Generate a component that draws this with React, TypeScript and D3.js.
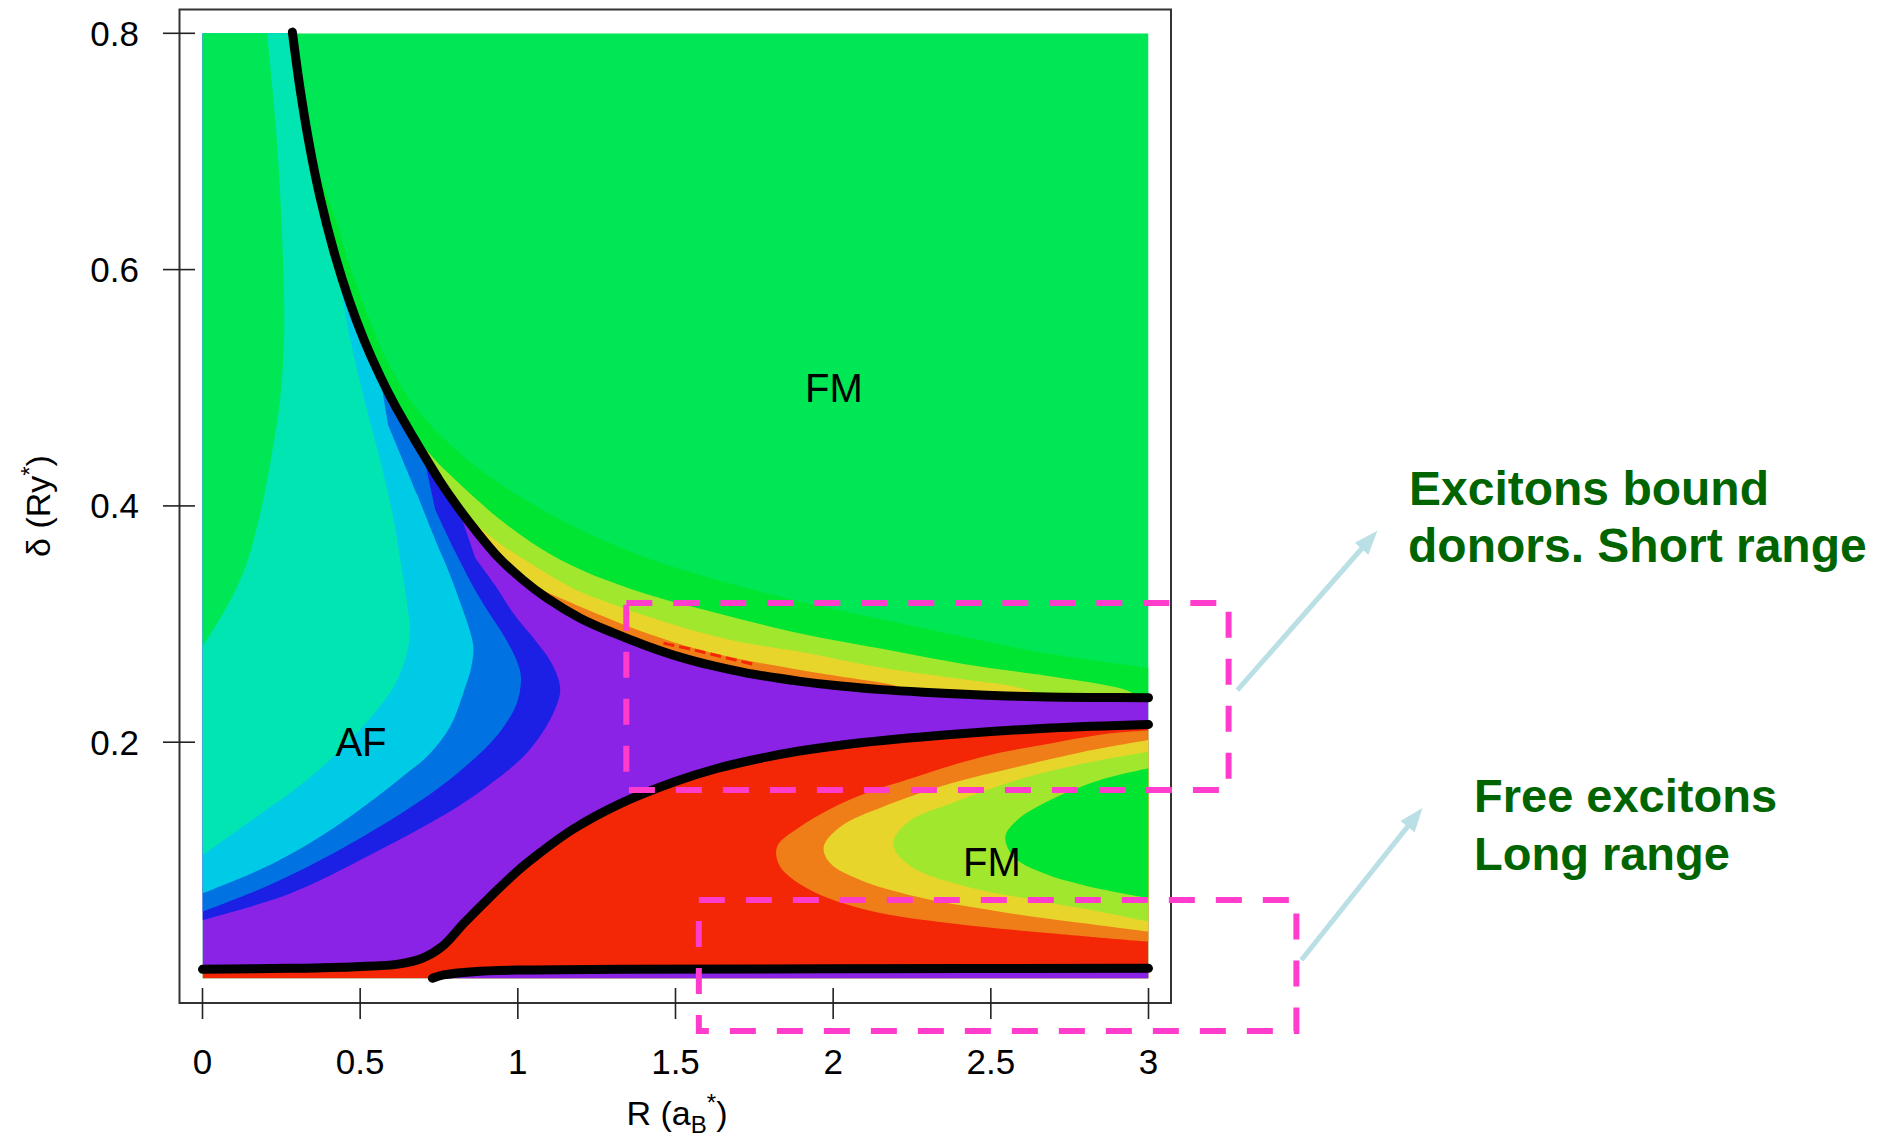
import React from "react";
import * as d3 from "d3";

type P = [number, number];

// ---------- axes ----------
const xTickValues = [0, 0.5, 1, 1.5, 2, 2.5, 3];
const xTickLabels = ["0", "0.5", "1", "1.5", "2", "2.5", "3"];
const yTickValues = [0.2, 0.4, 0.6, 0.8];
const yTickLabels = ["0.2", "0.4", "0.6", "0.8"];

// ---------- thick black phase lines (R, delta) ----------
const upperPhaseLine: P[] = [
  [0.285, 0.801], [0.31, 0.752], [0.34, 0.704], [0.373, 0.661], [0.416, 0.616],
  [0.465, 0.574], [0.513, 0.54], [0.563, 0.51], [0.61, 0.4852], [0.648, 0.4675],
  [0.7, 0.444], [0.753, 0.421], [0.81, 0.399], [0.87, 0.378], [0.94, 0.356],
  [1.018, 0.337], [1.092, 0.322], [1.198, 0.305], [1.303, 0.2925], [1.409, 0.2815],
  [1.515, 0.272], [1.621, 0.2645], [1.727, 0.2585], [1.896, 0.2515], [2.023, 0.2475],
  [2.155, 0.2445], [2.286, 0.2423], [2.418, 0.2405], [2.549, 0.2392], [2.681, 0.2383],
  [2.812, 0.2379], [3.0, 0.2376],
];
const middlePhaseLine: P[] = [
  [0, 0.0078], [0.276, 0.0086], [0.487, 0.01], [0.62, 0.0122], [0.7, 0.0175],
  [0.76, 0.027], [0.83, 0.047], [0.912, 0.069], [0.997, 0.0905], [1.071, 0.1065],
  [1.176, 0.1265], [1.325, 0.148], [1.497, 0.1665], [1.628, 0.1775], [1.737, 0.1845],
  [1.892, 0.1925], [2.054, 0.1985], [2.372, 0.2065], [2.689, 0.212], [3.0, 0.215],
];
const lowerPhaseLine: P[] = [
  [0.729, 0.0002], [0.764, 0.003], [0.859, 0.0058], [1.018, 0.0072], [1.325, 0.0078],
  [2.0, 0.0083], [3.0, 0.0086],
];

// ---------- AF side level edges (tip near upper line -> R = 0 edge) ----------
const darkBlueEdge: P[] = [
  [0.865, 0.356], [0.93, 0.332], [0.986, 0.309], [1.05, 0.288], [1.1, 0.27],
  [1.128, 0.254], [1.134, 0.242], [1.115, 0.226], [1.075, 0.207], [1.018, 0.188],
  [0.92, 0.166], [0.807, 0.145], [0.542, 0.106], [0.278, 0.072], [0, 0.0495],
];
const blueEdge: P[] = [
  [0.738, 0.397], [0.8, 0.362], [0.86, 0.331], [0.912, 0.308], [0.958, 0.289],
  [0.995, 0.27], [1.01, 0.255], [0.997, 0.233], [0.96, 0.215], [0.912, 0.199],
  [0.753, 0.162], [0.489, 0.117], [0.225, 0.0806], [0, 0.0565],
];
const cyanEdge: P[] = [
  [0.588, 0.469], [0.68, 0.41], [0.74, 0.37], [0.78, 0.345], [0.815, 0.32],
  [0.847, 0.295], [0.859, 0.28], [0.852, 0.263], [0.835, 0.248], [0.785, 0.213],
  [0.72, 0.19], [0.648, 0.1737], [0.436, 0.131], [0.225, 0.0975], [0, 0.0721],
];
const tealEdge: P[] = [
  [0.43, 0.6], [0.465, 0.546], [0.513, 0.49], [0.568, 0.434], [0.605, 0.39],
  [0.63, 0.35], [0.65, 0.315], [0.658, 0.295], [0.648, 0.275], [0.625, 0.257],
  [0.595, 0.242], [0.489, 0.2075], [0.331, 0.168], [0.172, 0.137], [0, 0.1045],
];
const leftGreenEdge: P[] = [
  [0.204, 0.802], [0.234, 0.716], [0.252, 0.631], [0.259, 0.546], [0.246, 0.49],
  [0.222, 0.447], [0.186, 0.397], [0.137, 0.349], [0.076, 0.314], [0, 0.281],
];

// ---------- upper FM bands (start at upper line, run to the right) ----------
const bandGreenEdge: P[] = [
  [0.335, 0.712], [0.385, 0.67], [0.426, 0.64], [0.468, 0.6025], [0.595, 0.518],
  [0.7, 0.4755], [0.859, 0.435], [1.018, 0.406], [1.229, 0.376], [1.441, 0.353],
  [1.652, 0.336], [1.864, 0.321], [2.155, 0.304], [2.418, 0.289], [2.681, 0.275],
  [3.0, 0.263],
];
const yellowGreenEdge: P[] = [
  [0.605, 0.49], [0.705, 0.449], [0.806, 0.421], [0.965, 0.384], [1.124, 0.356],
  [1.282, 0.337], [1.45, 0.322], [1.621, 0.31], [1.896, 0.292], [2.155, 0.279],
  [2.418, 0.266], [2.681, 0.256], [2.85, 0.249], [2.93, 0.244], [2.96, 0.24],
];
const yellowEdge: P[] = [
  [0.817, 0.3965], [0.933, 0.37], [1.018, 0.355], [1.176, 0.33], [1.303, 0.3165],
  [1.515, 0.2978], [1.727, 0.2837], [1.896, 0.2766], [2.155, 0.263], [2.418, 0.253],
  [2.575, 0.247], [2.64, 0.242],
];
const orangeEdge: P[] = [
  [1.04, 0.333], [1.198, 0.3147], [1.409, 0.2922], [1.621, 0.2752], [1.896, 0.2611],
  [2.05, 0.2545], [2.18, 0.249], [2.22, 0.246],
];
const redStreak: P[] = [[1.462, 0.2837], [1.56, 0.278], [1.66, 0.2715], [1.758, 0.2653]];

// ---------- lower FM C-shaped levels (R = 3 top -> around -> R = 3 bottom) ----------
const lowOrangeEdge: P[] = [
  [3.0, 0.21], [2.879, 0.2075], [2.689, 0.199], [2.477, 0.188], [2.266, 0.171],
  [2.054, 0.1515], [1.895, 0.1285], [1.822, 0.1115], [1.832, 0.0946], [1.927, 0.0749],
  [2.107, 0.058], [2.372, 0.0467], [2.689, 0.0383], [3.0, 0.0311],
];
const lowYellowEdge: P[] = [
  [3.0, 0.2019], [2.794, 0.192], [2.583, 0.179], [2.372, 0.165], [2.16, 0.1455],
  [2.023, 0.1285], [1.97, 0.1115], [1.991, 0.0975], [2.086, 0.0834], [2.266, 0.0692],
  [2.53, 0.0565], [2.794, 0.0467], [3.0, 0.0396],
];
const lowYellowGreenEdge: P[] = [
  [3.0, 0.192], [2.794, 0.182], [2.583, 0.168], [2.372, 0.148], [2.245, 0.134],
  [2.192, 0.117], [2.202, 0.106], [2.266, 0.0918], [2.424, 0.0777], [2.636, 0.0664],
  [2.847, 0.0565], [3.0, 0.0481],
];
const lowGreenEdge: P[] = [
  [3.0, 0.178], [2.847, 0.168], [2.689, 0.151], [2.583, 0.134], [2.546, 0.12],
  [2.572, 0.103], [2.668, 0.089], [2.794, 0.079], [3.0, 0.068],
];

// ---------- annotations (data units) ----------
const shortRangeBox: P[] = [[1.344, 0.1595], [3.254, 0.3178]];
const longRangeBox: P[] = [[1.574, -0.0444], [3.469, 0.0664]];
const shortRangeArrow: P[] = [[3.282, 0.244], [3.726, 0.379]];
const longRangeArrow: P[] = [[3.485, 0.0157], [3.869, 0.1444]];
const shortRangeText = ["Excitons bound", "donors. Short range"];
const longRangeText = ["Free excitons", "Long range"];

// ---------- colours ----------
const C = {
  mainGreen: "#00E756",
  bandGreen: "#00E532",
  yellowGreen: "#A0E72D",
  yellow: "#E8D52B",
  orange: "#EF7D18",
  red: "#F32606",
  purple: "#8A23E6",
  darkBlue: "#1C1FE4",
  blue: "#0072E1",
  cyan: "#00CBE6",
  teal: "#00E5B2",
  magenta: "#FF3CCC",
  arrow: "#BADFE4",
  note: "#006400",
};

const FONT = "'Liberation Sans', Arial, Helvetica, sans-serif";

export default function App() {
  const x = d3.scaleLinear().domain([0, 3]).range([202.5, 1148.5]);
  const y = d3.scaleLinear().domain([0, 0.8]).range([978.5, 33.3]);

  const curve = d3
    .line<P>()
    .x((d) => x(d[0]))
    .y((d) => y(d[1]))
    .curve(d3.curveCatmullRom.alpha(0.5));
  const straight = d3
    .line<P>()
    .x((d) => x(d[0]))
    .y((d) => y(d[1]));

  const join = (parts: (string | null)[]) =>
    parts.map((p, i) => (i === 0 ? (p as string) : (p as string).replace(/^M/, "L"))).join("") + "Z";

  const ubRange = (r0: number, r1: number) =>
    upperPhaseLine.filter((p) => p[0] >= r0 && p[0] <= r1);

  const upperBand = (edge: P[]) =>
    join([curve(edge), curve(ubRange(edge[0][0], edge[edge.length - 1][0]).slice().reverse())]);

  const afLevel = (edge: P[]) =>
    join([
      curve(edge),
      straight([[0, edge[edge.length - 1][1]], [0, 0.8]]),
      curve(upperPhaseLine.filter((p) => p[0] < edge[0][0])),
    ]);

  const last = (a: P[]) => a[a.length - 1];

  const purpleBase = join([
    curve(upperPhaseLine),
    straight([last(upperPhaseLine), last(middlePhaseLine)]),
    curve(middlePhaseLine.slice().reverse()),
    straight([middlePhaseLine[0], [0, 0.8]]),
  ]);
  const redBase = join([curve(middlePhaseLine), straight([last(middlePhaseLine), [3, 0], [0, 0]])]);
  const bottomPurple = join([
    curve(lowerPhaseLine),
    straight([last(lowerPhaseLine), [3, 0], [lowerPhaseLine[0][0], 0]]),
  ]);
  const leftGreen = join([curve(leftGreenEdge), straight([last(leftGreenEdge), [0, 0.8]])]);

  const arrow = (a: P[]) => {
    const x0 = x(a[0][0]), y0 = y(a[0][1]), x1 = x(a[1][0]), y1 = y(a[1][1]);
    const dx = x1 - x0, dy = y1 - y0, len = Math.hypot(dx, dy);
    const ux = dx / len, uy = dy / len;
    const hl = 24, hw = 9;
    const bx = x1 - ux * hl, by = y1 - uy * hl;
    return (
      <g>
        <line x1={x0} y1={y0} x2={bx + ux * 2} y2={by + uy * 2} stroke={C.arrow} strokeWidth={5} />
        <polygon
          points={`${x1},${y1} ${bx - uy * hw},${by + ux * hw} ${bx + uy * hw},${by - ux * hw}`}
          fill={C.arrow}
        />
      </g>
    );
  };

  const box = (b: P[]) => {
    const xa = x(b[0][0]), xb = x(b[1][0]), ya = y(b[1][1]), yb = y(b[0][1]);
    return (
      <rect
        x={xa}
        y={ya}
        width={xb - xa}
        height={yb - ya}
        fill="none"
        stroke={C.magenta}
        strokeWidth={6}
        strokeDasharray="26 21"
      />
    );
  };

  const frame = { x1: 179.5, y1: 9.5, x2: 1171, y2: 1003 };

  return (
    <svg
      width={1887}
      height={1137}
      style={{ position: "absolute", left: 0, top: 0, display: "block", background: "#fff" }}
      fontFamily={FONT}
    >
      <defs>
        <clipPath id="plotClip">
          <rect x={x(0)} y={y(0.8)} width={x(3) - x(0)} height={y(0) - y(0.8)} />
        </clipPath>
      </defs>

      <g clipPath="url(#plotClip)">
        <rect x={x(0)} y={y(0.8)} width={x(3) - x(0)} height={y(0) - y(0.8)} fill={C.mainGreen} />
        {/* upper FM bands */}
        <path d={upperBand(bandGreenEdge)} fill={C.bandGreen} />
        <path d={upperBand(yellowGreenEdge)} fill={C.yellowGreen} />
        <path d={upperBand(yellowEdge)} fill={C.yellow} />
        <path d={upperBand(orangeEdge)} fill={C.orange} />
        <path d={curve(redStreak) as string} fill="none" stroke={C.red} strokeWidth={3} strokeDasharray="11 5" />
        {/* AF side */}
        <path d={purpleBase} fill={C.purple} />
        <path d={afLevel(darkBlueEdge)} fill={C.darkBlue} />
        <path d={afLevel(blueEdge)} fill={C.blue} />
        <path d={afLevel(cyanEdge)} fill={C.cyan} />
        <path d={afLevel(tealEdge)} fill={C.teal} />
        <path d={leftGreen} fill={C.mainGreen} />
        {/* lower FM */}
        <path d={redBase} fill={C.red} />
        <path d={bottomPurple} fill={C.purple} />
        <path d={join([curve(lowOrangeEdge)])} fill={C.orange} />
        <path d={join([curve(lowYellowEdge)])} fill={C.yellow} />
        <path d={join([curve(lowYellowGreenEdge)])} fill={C.yellowGreen} />
        <path d={join([curve(lowGreenEdge)])} fill={C.bandGreen} />
      </g>

      {/* phase lines */}
      {[upperPhaseLine, middlePhaseLine, lowerPhaseLine].map((l, i) => (
        <path
          key={i}
          d={curve(l) as string}
          fill="none"
          stroke="#000"
          strokeWidth={9}
          strokeLinecap="round"
          strokeLinejoin="round"
        />
      ))}

      {/* frame */}
      <rect
        x={frame.x1}
        y={frame.y1}
        width={frame.x2 - frame.x1}
        height={frame.y2 - frame.y1}
        fill="none"
        stroke="#333"
        strokeWidth={2}
      />

      {/* y axis */}
      {yTickValues.map((v, i) => (
        <g key={"y" + i}>
          <line x1={163} x2={195} y1={y(v)} y2={y(v)} stroke="#222" strokeWidth={1.6} />
          <text x={139} y={y(v) + 12.5} textAnchor="end" fontSize={35} fill="#000">
            {yTickLabels[i]}
          </text>
        </g>
      ))}
      {/* x axis */}
      {xTickValues.map((v, i) => (
        <g key={"x" + i}>
          <line x1={x(v)} x2={x(v)} y1={988} y2={1019} stroke="#222" strokeWidth={1.6} />
          <text x={x(v)} y={1074} textAnchor="middle" fontSize={35} fill="#000">
            {xTickLabels[i]}
          </text>
        </g>
      ))}

      <text x={677} y={1125} textAnchor="middle" fontSize={34} fill="#000">
        R (a
        <tspan dy={8} fontSize={24}>B</tspan>
        <tspan dy={-22} fontSize={24}>*</tspan>
        <tspan dy={14}>)</tspan>
      </text>
      <text transform="translate(50,506) rotate(-90)" textAnchor="middle" fontSize={34} fill="#000">
        δ (Ry
        <tspan dy={-12} fontSize={24}>*</tspan>
        <tspan dy={12}>)</tspan>
      </text>

      {/* region labels */}
      <text x={834} y={402} textAnchor="middle" fontSize={40} fill="#000">FM</text>
      <text x={361} y={756} textAnchor="middle" fontSize={40} fill="#000">AF</text>
      <text x={992} y={876} textAnchor="middle" fontSize={40} fill="#000">FM</text>

      {/* annotations */}
      {box(shortRangeBox)}
      {box(longRangeBox)}
      {arrow(shortRangeArrow)}
      {arrow(longRangeArrow)}

      <text fontSize={48} fontWeight="bold" fill={C.note}>
        <tspan x={1409} y={505}>{shortRangeText[0]}</tspan>
        <tspan x={1408} y={562}>{shortRangeText[1]}</tspan>
      </text>
      <text fontSize={47} fontWeight="bold" fill={C.note}>
        <tspan x={1474} y={812}>{longRangeText[0]}</tspan>
        <tspan x={1474} y={870}>{longRangeText[1]}</tspan>
      </text>
    </svg>
  );
}
